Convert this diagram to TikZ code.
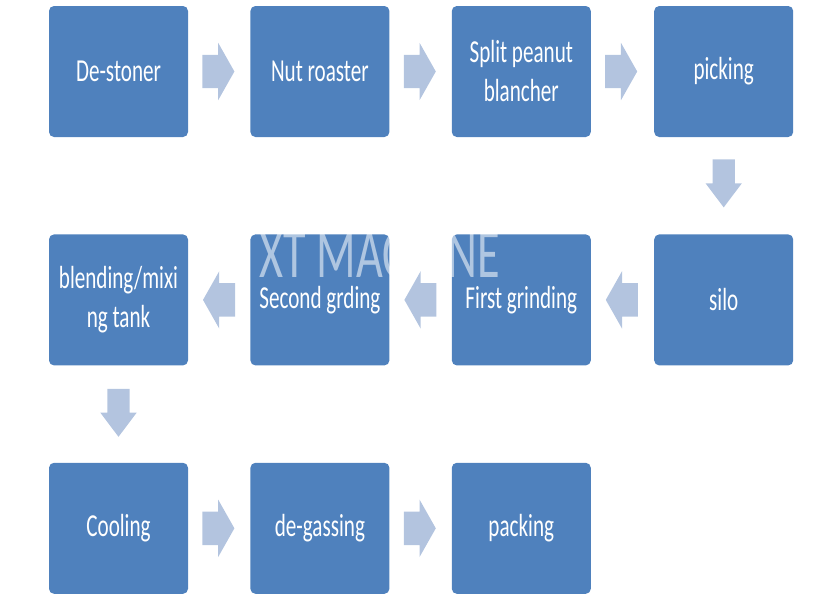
\documentclass[tikz,border=0pt]{standalone}
\usepackage{fontspec}
\setmainfont{Carlito}[FakeStretch=0.66]
\usetikzlibrary{positioning}
\usetikzlibrary{calc}
\usetikzlibrary{shapes.arrows}
\definecolor{boxblue}{HTML}{4F81BD}
\definecolor{arrowblue}{HTML}{B3C4DF}

\begin{document}
\begin{tikzpicture}[x=1pt, y=-1pt,
  stage/.style={fill=boxblue, rounded corners=5pt, minimum width=139pt, minimum height=131pt,
    text=white, align=center, font=\fontsize{32}{39}\selectfont},
  flowright/.style={single arrow, fill=arrowblue, inner xsep=0pt, inner ysep=16.5pt,
    single arrow head extend=12pt, single arrow tip angle=121, minimum height=32pt, anchor=tail},
  flowleft/.style={flowright, shape border rotate=180},
  flowdown/.style={single arrow, fill=arrowblue, inner sep=11pt, single arrow head extend=7pt,
    single arrow tip angle=74, minimum height=48pt, shape border rotate=270, anchor=tail}]
\useasboundingbox (0,0) rectangle (840,600);
% Stages
\node [stage] (destoner) at (118.5,71.5) {De-stoner};
\node [stage, right=62pt of destoner] (roaster) {Nut roaster};
\node [stage, right=62pt of roaster] (blancher) {Split peanut\\blancher};
\node [stage, right=63pt of blancher] (picking) {picking};
\node [stage, below=97pt of picking] (silo) {silo};
\node [stage, left=63pt of silo] (firstgr) {First grinding};
\node [stage, left=62pt of firstgr] (secondgr) {Second grding};
\node [stage, left=62pt of secondgr] (blending) {blending/mixi\\ng tank};
\node [stage, below=97pt of blending] (cooling) {Cooling};
\node [stage, right=62pt of cooling] (degassing) {de-gassing};
\node [stage, right=62pt of degassing] (packing) {packing};
% Arrows
\node [flowright] (a1) at ($(destoner.east)+(14,0)$) {};
\node [flowright] (a2) at ($(roaster.east)+(14,0)$) {};
\node [flowright] (a3) at ($(blancher.east)+(14,0)$) {};
\node [flowdown] (a4) at ($(picking.south)+(0,22)$) {};
\node [flowleft] (a5) at ($(silo.west)+(-16,0)$) {};
\node [flowleft] (a6) at ($(firstgr.west)+(-15,0)$) {};
\node [flowleft] (a7) at ($(secondgr.west)+(-15,0)$) {};
\node [flowdown] (a8) at ($(blending.south)+(0,23)$) {};
\node [flowright] (a9) at ($(cooling.east)+(14,0)$) {};
\node [flowright] (a10) at ($(degassing.east)+(14,0)$) {};
% Watermark
\node [text=white, text opacity=0.55, font=\fontsize{70}{70}\selectfont] (mark) at (380,255) {XT MACHINE};
\end{tikzpicture}
\end{document}
